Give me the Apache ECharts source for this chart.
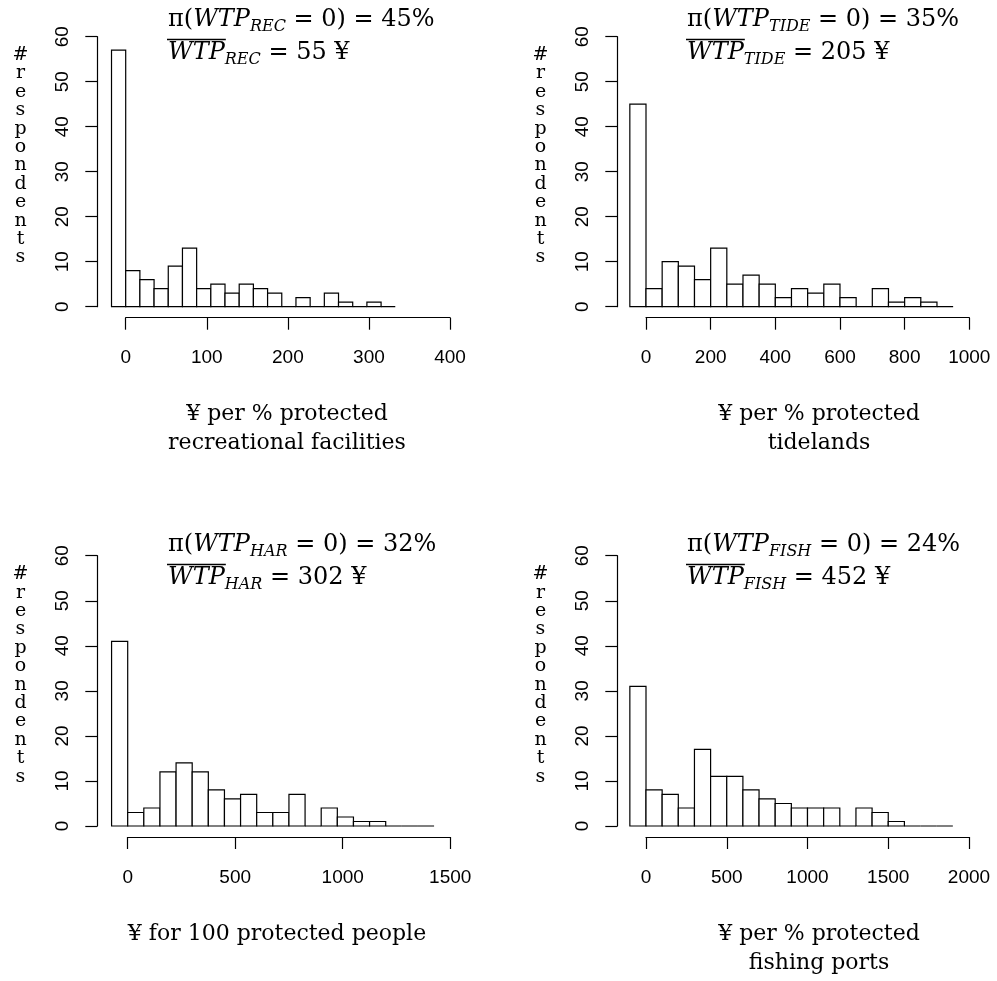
<!DOCTYPE html>
<html>
<head>
<meta charset="utf-8">
<script src="https://cdn.jsdelivr.net/npm/echarts@6/dist/echarts.min.js"></script>
<style>
  html, body { margin: 0; padding: 0; background: #fff; }
  #chart { width: 997px; height: 981px; }
</style>
</head>
<body>
<div id="chart"></div>
<script>
// histogram breaks (first bin is the "zero" bin, left of 0) and counts
const recBreaks = [-17.5, 0, 17.5, 35, 52.5, 70, 87.5, 105, 122.5, 140, 157.5, 175, 192.5, 210, 227.5, 245, 262.5, 280, 297.5, 315, 332.5];
const recCounts = [57, 8, 6, 4, 9, 13, 4, 5, 3, 5, 4, 3, 0, 2, 0, 3, 1, 0, 1, 0];

const tideBreaks = [-50, 0, 50, 100, 150, 200, 250, 300, 350, 400, 450, 500, 550, 600, 650, 700, 750, 800, 850, 900, 950];
const tideCounts = [45, 4, 10, 9, 6, 13, 5, 7, 5, 2, 4, 3, 5, 2, 0, 4, 1, 2, 1, 0];

const harBreaks = [-75, 0, 75, 150, 225, 300, 375, 450, 525, 600, 675, 750, 825, 900, 975, 1050, 1125, 1200, 1275, 1350, 1425];
const harCounts = [41, 3, 4, 12, 14, 12, 8, 6, 7, 3, 3, 7, 0, 4, 2, 1, 1, 0, 0, 0];

const fishBreaks = [-100, 0, 100, 200, 300, 400, 500, 600, 700, 800, 900, 1000, 1100, 1200, 1300, 1400, 1500, 1600, 1700, 1800, 1900];
const fishCounts = [31, 8, 7, 4, 17, 11, 11, 8, 6, 5, 4, 4, 4, 0, 4, 3, 1, 0, 0, 0];

// axis ranges
const xMaxes = [400, 1000, 1500, 2000];
const xSteps = [100, 200, 500, 500];
const yMax = 60;
const yStep = 10;

// annotation texts
const subs = ['REC', 'TIDE', 'HAR', 'FISH'];
const zeroShares = ['45%', '35%', '32%', '24%'];
const means = ['55', '205', '302', '452'];
const xNames = [
  '¥ per % protected\nrecreational facilities',
  '¥ per % protected\ntidelands',
  '¥ for 100 protected people',
  '¥ per % protected\nfishing ports'
];
const yName = '#\nr\ne\ns\np\no\nn\nd\ne\nn\nt\ns';

const allBreaks = [recBreaks, tideBreaks, harBreaks, fishBreaks];
const allCounts = [recCounts, tideCounts, harCounts, fishCounts];

// layout of each panel (pixels)
const layout = [
  { left: 125.7, top: 36.7, width: 324.3, height: 270, yOff: 28.4, titleX: 168, titleY: 0, nameX: 287, nameY: 399.5, hashX: 20.5, hashY: 45.8 },
  { left: 646, top: 36.7, width: 323.3, height: 270, yOff: 28.7, titleX: 687, titleY: 0, nameX: 819, nameY: 399.5, hashX: 540.5, hashY: 45.8 },
  { left: 127.7, top: 555.7, width: 322.5, height: 270.3, yOff: 30.4, titleX: 168, titleY: 525, nameX: 277, nameY: 919.5, hashX: 20.5, hashY: 565.1 },
  { left: 646, top: 555.7, width: 323, height: 270.3, yOff: 28.7, titleX: 687, titleY: 525, nameX: 819, nameY: 919.5, hashX: 540.5, hashY: 565.1 }
];

const serif = 'DejaVu Serif';
const sans = 'Liberation Sans';
const titleSize = 24;

const measure = document.createElement('canvas').getContext('2d');
measure.font = 'italic ' + titleSize + 'px "' + serif + '"';
const wtpWidth = measure.measureText('WTP').width;

const rich = {
  n: { fontFamily: serif, fontSize: titleSize, lineHeight: 30, verticalAlign: 'middle', color: '#000' },
  i: { fontFamily: serif, fontSize: titleSize, fontStyle: 'italic', lineHeight: 30, verticalAlign: 'middle', color: '#000' },
  s: { fontFamily: serif, fontSize: 16, fontStyle: 'italic', lineHeight: 18, verticalAlign: 'bottom', color: '#000' }
};

const chart = echarts.init(document.getElementById('chart'));

const grids = [], xAxes = [], yAxes = [], series = [], graphics = [];
const lineStyle = { color: '#000', width: 1.2 };

layout.forEach((L, k) => {
  grids.push({ left: L.left, top: L.top, width: L.width, height: L.height, containLabel: false, outerBoundsMode: 'none' });
  xAxes.push({
    type: 'value', gridIndex: k, min: 0, max: xMaxes[k], interval: xSteps[k],
    offset: 11,
    splitLine: { show: false },
    axisLine: { show: true, onZero: false, lineStyle },
    axisTick: { show: true, length: 12, lineStyle },
    axisLabel: { color: '#000', fontFamily: sans, fontSize: 19, margin: 31, formatter: v => String(v) }
  });
  yAxes.push({
    type: 'value', gridIndex: k, min: 0, max: yMax, interval: yStep,
    offset: L.yOff,
    splitLine: { show: false },
    axisLine: { show: true, onZero: false, lineStyle },
    axisTick: { show: true, length: 12, lineStyle },
    axisLabel: { color: '#000', fontFamily: sans, fontSize: 19, margin: 25, rotate: 90 }
  });

  const br = allBreaks[k];
  const data = allCounts[k].map((c, j) => [br[j], br[j + 1], c]);
  series.push({
    type: 'custom', xAxisIndex: k, yAxisIndex: k, clip: false,
    encode: { x: [0, 1], y: 2 },
    data,
    renderItem(params, api) {
      const p0 = api.coord([api.value(0), 0]);
      const p1 = api.coord([api.value(1), api.value(2)]);
      return {
        type: 'rect',
        shape: { x: p0[0], y: p1[1], width: p1[0] - p0[0], height: p0[1] - p1[1] },
        style: { fill: '#fff', stroke: '#000', lineWidth: 1.2 }
      };
    }
  });

  // title lines
  graphics.push({
    type: 'text', x: L.titleX, y: L.titleY + 19.5,
    style: { text: '{n|π(}{i|WTP}{s|' + subs[k] + '}{n| = 0) = ' + zeroShares[k] + '}', rich, align: 'left', verticalAlign: 'middle' }
  });
  graphics.push({
    type: 'text', x: L.titleX, y: L.titleY + 52.8,
    style: { text: '{i|WTP}{s|' + subs[k] + '}{n| = ' + means[k] + ' ¥}', rich, align: 'left', verticalAlign: 'middle' }
  });
  graphics.push({
    type: 'line',
    shape: { x1: L.titleX - 1, y1: L.titleY + 39.5, x2: L.titleX + wtpWidth + 1, y2: L.titleY + 39.5 },
    style: { stroke: '#000', lineWidth: 1.3 }
  });

  // axis names
  graphics.push({
    type: 'text', x: L.nameX, y: L.nameY,
    style: { text: xNames[k], fontFamily: serif, fontSize: 22, lineHeight: 29, fill: '#000', align: 'center', verticalAlign: 'top' }
  });
  graphics.push({
    type: 'text', x: L.hashX, y: L.hashY,
    style: { text: yName, fontFamily: serif, fontSize: 19, lineHeight: 18.4, fill: '#000', align: 'center', verticalAlign: 'top' }
  });
});

chart.setOption({
  animation: false,
  backgroundColor: '#fff',
  grid: grids,
  xAxis: xAxes,
  yAxis: yAxes,
  series,
  graphic: { elements: graphics }
});
</script>
</body>
</html>
